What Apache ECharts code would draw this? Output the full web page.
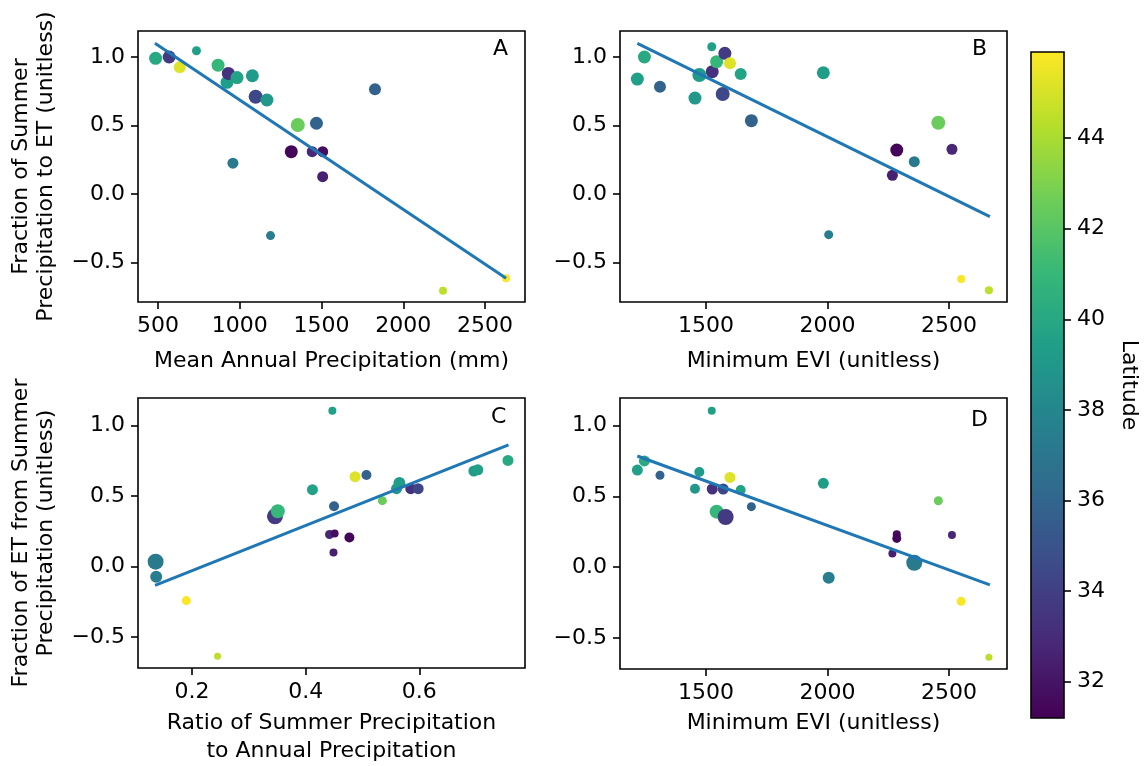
<!DOCTYPE html>
<html>
<head>
<meta charset="utf-8">
<script src="https://cdn.jsdelivr.net/npm/echarts@6/dist/echarts.min.js"></script>
<style>html,body{margin:0;padding:0;background:#fff;}#chart{width:1146px;height:766px;}</style>
</head>
<body>
<div id="chart"></div>
<script>
// ---- Panel A: Mean annual precipitation vs fraction of summer precipitation to ET
const mapA  = [485, 568, 633, 735, 867, 922, 930, 983, 1077, 1097, 1166, 1355, 1469, 1315, 1443, 1507, 1507, 958, 1827, 1188, 2243, 2629];
const fracA = [0.99, 1.00, 0.925, 1.046, 0.94, 0.815, 0.88, 0.85, 0.863, 0.71, 0.686, 0.503, 0.516, 0.308, 0.308, 0.308, 0.126, 0.224, 0.764, -0.305, -0.707, -0.617];
const latA  = [40.0, 33.7, 45.2, 39.5, 41.0, 39.4, 33.3, 39.7, 39.2, 34.4, 39.0, 42.5, 35.8, 31.4, 32.8, 31.8, 32.5, 37.2, 35.8, 37.5, 44.4, 45.8];
const sizeA = [13, 13, 12, 9, 13, 13, 13, 13, 13, 14, 13, 14, 13, 13, 11, 11, 11, 11, 12, 9, 8, 8];
const fitA  = [[481, 1.10], [2629, -0.617]];

// ---- Panel B: Minimum EVI vs fraction of summer precipitation to ET
const eviB  = [1218, 1247, 1311, 1455, 1473, 1524, 1526, 1544, 1578, 1599, 1569, 1643, 1687, 1983, 2005, 2267, 2285, 2357, 2456, 2512, 2550, 2664];
const fracB = [0.839, 1.0, 0.783, 0.70, 0.868, 1.075, 0.893, 0.966, 1.027, 0.954, 0.73, 0.876, 0.535, 0.885, -0.298, 0.136, 0.32, 0.235, 0.52, 0.326, -0.622, -0.704];
const latB  = [39.5, 40.0, 35.8, 39.0, 39.2, 39.5, 33.3, 41.0, 33.7, 45.2, 34.4, 39.7, 35.8, 39.3, 37.5, 32.5, 31.4, 37.2, 42.5, 32.8, 45.8, 44.4];
const sizeB = [13, 13, 12, 13, 14, 9, 13, 13, 13, 12, 14, 12, 13, 13, 9, 11, 13, 11, 14, 11, 8, 8];
const fitB  = [[1218, 1.10], [2668, -0.166]];

// ---- Panel C: Ratio of summer to annual precipitation vs fraction of ET from summer precipitation
const ratioC = [0.136, 0.137, 0.190, 0.245, 0.346, 0.351, 0.412, 0.447, 0.450, 0.442, 0.451, 0.449, 0.477, 0.487, 0.507, 0.535, 0.560, 0.565, 0.585, 0.598, 0.696, 0.703, 0.756];
const fracC  = [0.034, -0.072, -0.242, -0.637, 0.356, 0.392, 0.545, 1.105, 0.427, 0.227, 0.234, 0.10, 0.206, 0.637, 0.649, 0.467, 0.552, 0.592, 0.552, 0.552, 0.677, 0.686, 0.752];
const latC   = [37.2, 37.5, 45.8, 44.4, 33.7, 41.0, 39.7, 39.5, 35.8, 32.8, 31.6, 32.5, 31.4, 45.2, 35.8, 42.5, 39.0, 39.3, 33.3, 34.3, 39.2, 39.5, 40.0];
const sizeC  = [16, 12, 9, 7, 16, 14, 11, 8, 10, 9, 8, 8, 10, 11, 10, 9, 11, 12, 11, 11, 11, 11, 11];
const fitC   = [[0.135, -0.134], [0.757, 0.863]];

// ---- Panel D: Minimum EVI vs fraction of ET from summer precipitation
const eviD  = [1218, 1247, 1311, 1455, 1473, 1524, 1526, 1544, 1581, 1599, 1571, 1643, 1687, 1983, 2005, 2267, 2285, 2285, 2357, 2456, 2512, 2550, 2664];
const fracD = [0.686, 0.75, 0.649, 0.554, 0.672, 1.105, 0.552, 0.392, 0.354, 0.634, 0.552, 0.545, 0.427, 0.592, -0.075, 0.097, 0.232, 0.203, 0.031, 0.469, 0.227, -0.242, -0.637];
const latD  = [39.5, 40.0, 35.8, 39.0, 39.2, 39.5, 33.3, 41.0, 33.7, 45.2, 34.3, 39.7, 35.8, 39.3, 37.5, 32.5, 31.6, 31.4, 37.2, 42.5, 32.8, 45.8, 44.4];
const sizeD = [11, 11, 9, 10, 10, 8, 11, 14, 16, 11, 11, 10, 9, 11, 12, 8, 8, 9, 16, 9, 8, 9, 7];
const fitD  = [[1218, 0.785], [2668, -0.126]];

// ---- Tick labels
const ticksMAP   = [500, 1000, 1500, 2000, 2500];
const ticksEVI   = [1500, 2000, 2500];
const ticksRatio = [0.2, 0.4, 0.6];
const ticksFrac  = [-0.5, 0.0, 0.5, 1.0];
const ticksLat   = [32, 34, 36, 38, 40, 42, 44];
const latRange   = [31.2, 45.9];

const viridis = ['#440154','#482878','#3e4989','#31688e','#26828e','#1f9e89','#35b779','#6ece58','#b5de2b','#fde725'];

const FONT = 'DejaVu Sans';
const FS = 22;
const fmt1 = v => (v < 0 ? '\u2212' + Math.abs(v).toFixed(1) : v.toFixed(1));

function zip(xs, ys, lats, sizes) {
  return xs.map((x, i) => [x, ys[i], lats[i], sizes[i]]);
}

function valAxis(gridIndex, min, max, ticks, formatter, extra) {
  return Object.assign({
    type: 'value', gridIndex, min, max,
    axisLine: { show: false, onZero: false },
    axisTick: { show: true, length: 7, inside: false, customValues: ticks, lineStyle: { color: '#000', width: 1.6 } },
    axisLabel: { show: true, customValues: ticks, margin: 13, fontSize: FS, color: '#000', fontFamily: FONT, formatter },
    splitLine: { show: false },
    nameTextStyle: { fontSize: FS, color: '#000', fontFamily: FONT, lineHeight: 25 }
  }, extra || {});
}

const grids = [
  { left: 138, top: 31, width: 387, height: 271 },
  { left: 620, top: 31, width: 387, height: 271 },
  { left: 138, top: 398, width: 387, height: 271 },
  { left: 620, top: 398, width: 387, height: 271 },
  { left: 1031, top: 52, width: 33, height: 666, z: 10 }
].map(g => Object.assign({ show: true, borderColor: '#000', borderWidth: 1.6, backgroundColor: 'transparent', containLabel: false }, g));

const yRow1 = [-0.79, 1.19];
const yRow2 = [-0.72, 1.195];

const xAxes = [
  valAxis(0, 377.4, 2744.6, ticksMAP, v => String(v), { name: 'Mean Annual Precipitation (mm)', nameLocation: 'middle', nameGap: 47 }),
  valAxis(1, 1146.6, 2738.4, ticksEVI, v => String(v), { name: 'Minimum EVI (unitless)', nameLocation: 'middle', nameGap: 47 }),
  valAxis(2, 0.105, 0.786, ticksRatio, v => v.toFixed(1), {
    name: 'Ratio of Summer Precipitation\nto Annual Precipitation', nameLocation: 'middle', nameGap: 41,
    nameTextStyle: { fontSize: FS, color: '#000', fontFamily: FONT, lineHeight: 28 }
  }),
  valAxis(3, 1146.6, 2738.4, ticksEVI, v => String(v), { name: 'Minimum EVI (unitless)', nameLocation: 'middle', nameGap: 42 }),
  { type: 'value', gridIndex: 4, min: 0, max: 1, show: false }
];

const yAxes = [
  valAxis(0, yRow1[0], yRow1[1], ticksFrac, fmt1, { name: 'Fraction of Summer\nPrecipitation to ET (unitless)', nameLocation: 'middle', nameRotate: 90, nameGap: 79 }),
  valAxis(1, yRow1[0], yRow1[1], ticksFrac, fmt1),
  valAxis(2, yRow2[0], yRow2[1], ticksFrac, fmt1, { name: 'Fraction of ET from Summer\nPrecipitation (unitless)', nameLocation: 'middle', nameRotate: 90, nameGap: 79 }),
  valAxis(3, yRow2[0], yRow2[1], ticksFrac, fmt1),
  valAxis(4, latRange[0], latRange[1], ticksLat, v => String(v), { position: 'right', name: 'Latitude', nameLocation: 'middle', nameRotate: -90, nameGap: 52 })
];

function scatter(i, data) {
  return {
    type: 'scatter', xAxisIndex: i, yAxisIndex: i, data, silent: true,
    symbol: 'circle', symbolSize: v => v[3], itemStyle: { opacity: 1 }, z: 2
  };
}
function fit(i, data) {
  return {
    type: 'line', xAxisIndex: i, yAxisIndex: i, data, silent: true, symbol: 'none',
    lineStyle: { color: '#1f77b4', width: 3 }, z: 3
  };
}

const letterStyle = { fontSize: FS, fill: '#000', fontFamily: FONT };

const option = {
  animation: false,
  backgroundColor: '#fff',
  grid: grids,
  xAxis: xAxes,
  yAxis: yAxes,
  visualMap: {
    type: 'continuous', min: latRange[0], max: latRange[1], dimension: 2,
    seriesIndex: [0, 1, 2, 3], calculable: false, realtime: false,
    left: 1031, top: 52, itemWidth: 33, itemHeight: 666, padding: 0,
    text: null, showLabel: false, hoverLink: false,
    inRange: { color: viridis }
  },
  graphic: [
    { type: 'text', left: 493, top: 38, style: Object.assign({ text: 'A' }, letterStyle) },
    { type: 'text', left: 972, top: 38, style: Object.assign({ text: 'B' }, letterStyle) },
    { type: 'text', left: 491, top: 406, style: Object.assign({ text: 'C' }, letterStyle) },
    { type: 'text', left: 971, top: 409, style: Object.assign({ text: 'D' }, letterStyle) }
  ],
  series: [
    scatter(0, zip(mapA, fracA, latA, sizeA)),
    scatter(1, zip(eviB, fracB, latB, sizeB)),
    scatter(2, zip(ratioC, fracC, latC, sizeC)),
    scatter(3, zip(eviD, fracD, latD, sizeD)),
    fit(0, fitA), fit(1, fitB), fit(2, fitC), fit(3, fitD)
  ]
};

const chart = echarts.init(document.getElementById('chart'), null, { renderer: 'canvas' });
chart.setOption(option);
</script>
</body>
</html>
